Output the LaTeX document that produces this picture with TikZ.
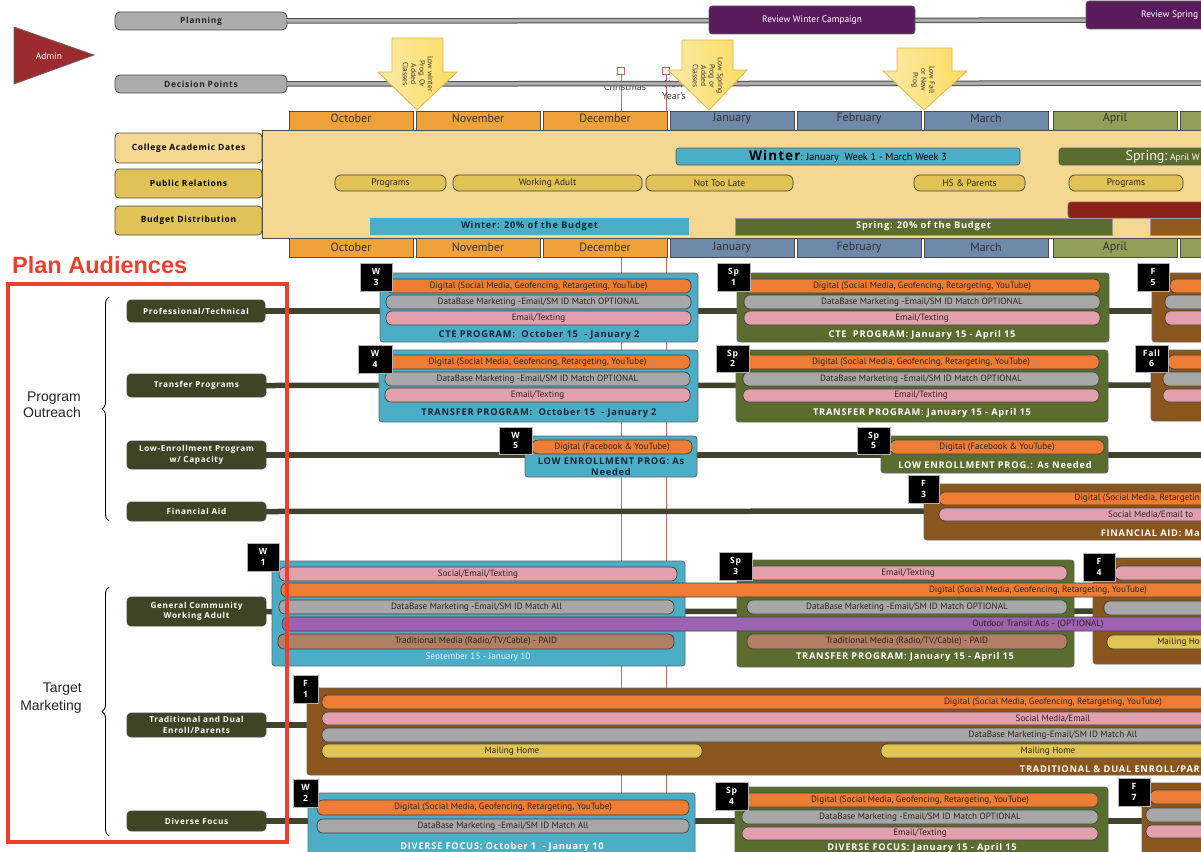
\documentclass[tikz,border=0pt]{standalone}
\usepackage{fontspec}
\setmainfont{PT Sans}
\newfontfamily\heavyfont{Open Sans}[LetterSpace=8]
\newfontfamily\arialfont{Liberation Sans}
\usetikzlibrary{decorations.pathreplacing}

\definecolor{cardCyan}{RGB}{76,173,198}
\definecolor{cardOlive}{RGB}{91,108,47}
\definecolor{cardBrown}{RGB}{139,86,30}
\definecolor{pOrange}{RGB}{237,125,52}
\definecolor{pGray}{RGB}{167,167,167}
\definecolor{pPink}{RGB}{226,160,172}
\definecolor{pPurple}{RGB}{158,99,176}
\definecolor{pTrad}{RGB}{178,126,100}
\definecolor{pYellow}{RGB}{224,196,84}
\definecolor{audGreen}{RGB}{62,69,36}
\definecolor{mOrange}{RGB}{239,162,58}
\definecolor{mBlue}{RGB}{111,137,168}
\definecolor{mGreen}{RGB}{143,160,89}
\definecolor{panelTan}{RGB}{244,216,146}
\definecolor{prGold}{RGB}{224,194,86}
\definecolor{adminRed}{RGB}{155,43,46}
\definecolor{reviewPurple}{RGB}{90,27,93}
\definecolor{frameRed}{RGB}{232,66,45}
\definecolor{budgetRed}{RGB}{139,32,22}
\definecolor{budgetBrown}{RGB}{142,90,30}
\definecolor{holidayRed}{RGB}{205,100,100}
\definecolor{titleNavy}{RGB}{20,38,56}
\definecolor{arrowEdge}{RGB}{229,181,70}
\definecolor{arrowLight}{RGB}{251,233,168}
\definecolor{arrowDark}{RGB}{252,220,96}
\definecolor{inkText}{RGB}{45,35,30}

% box from (x1,y1) to (x2,y2), image-style coordinates
\newcommand{\rbox}[7][]{%
  \node[#1,minimum width={#5-(#3)},minimum height={#6-(#4)},inner sep=0pt,outer sep=0pt]
    (#2) at ({(#3+#5)/2},{(#4+#6)/2}) {#7};}

\begin{document}
\begin{tikzpicture}[x=1pt,y=-1pt,
  pill/.style={draw=black!75,line width=0.7pt,rounded corners=6pt,font=\fontsize{9.1}{9.5}\selectfont,text=inkText},
  card/.style={draw=black!60,line width=0.8pt,rounded corners=3pt},
  badge/.style={fill=black,draw=black!30,line width=0.6pt,text=white,align=center,font=\heavyfont\bfseries\fontsize{8.6}{10.5}\selectfont},
  cardtitle/.style={font=\heavyfont\bfseries\fontsize{9.3}{10}\selectfont},
  month/.style={draw=black!70,line width=0.8pt,font=\fontsize{12}{12}\selectfont,text=black!80},
  monthtext/.style={font=\fontsize{12}{12}\selectfont,text=black!80},
  aud/.style={fill=audGreen,draw=black!70,line width=0.7pt,rounded corners=4pt,text=white,align=center,font=\heavyfont\bfseries\fontsize{8.2}{10.5}\selectfont},
  sidelabel/.style={draw=black!70,line width=0.8pt,rounded corners=4pt,font=\heavyfont\bfseries\fontsize{8.5}{9}\selectfont,text=black},
  prpill/.style={pill,fill=prGold,font=\fontsize{9.5}{10}\selectfont},
  trackbar/.style={fill=gray!65,draw=black!70,line width=0.8pt,rounded corners=5pt,font=\heavyfont\bfseries\fontsize{8.5}{9}\selectfont,text=black!85},
  decarrow/.style={left color=arrowLight,right color=arrowDark,draw=arrowEdge,line width=0.8pt},
  arrowtext/.style={rotate=-90,align=center,font=\fontsize{7.6}{8.3}\selectfont,text=black!80},
  holiday/.style={draw=holidayRed,fill=white,minimum size=7pt,inner sep=0pt,line width=0.7pt},
  outtext/.style={font=\fontsize{9.1}{9.5}\selectfont,text=inkText},
  budget/.style={font=\heavyfont\bfseries\fontsize{9.3}{10}\selectfont}
]
\useasboundingbox (0,0) rectangle (1201,851);
\fill[white] (0,0) rectangle (1201,851);
\clip (0,0) rectangle (1201,851);

% ---------- holiday markers and their guide lines
\node[holiday] (xmas) at (621,71) {};
\node[holiday] (newyear) at (666,71) {};
\coordinate (xmasEnd) at (621,851);
\coordinate (newyearEnd) at (666,851);
\draw[holidayRed,line width=0.8pt] (xmas.south) -- (xmasEnd);
\draw[holidayRed,line width=0.8pt] (newyear.south) -- (newyearEnd);
\node[font=\fontsize{10}{10}\selectfont,text=black!75] (xmasLbl) at (625,87) {Christmas};
\node[align=center,font=\fontsize{10}{11.5}\selectfont,text=black!75] (nyLbl) at (674,90) {New\\Year's};

% ---------- admin tracks
\filldraw[fill=adminRed,draw=black!60,line width=0.7pt] (14,27) -- (94,55) -- (14,84) -- cycle;
\node[text=white,font=\fontsize{9.5}{10}\selectfont] (admin) at (49,56) {Admin};

\coordinate (planEnd) at (1210,20);
\coordinate (decEnd) at (1210,83);
\rbox[trackbar]{plan}{115}{12}{287}{30}{Planning}
\rbox[trackbar]{dec}{115}{75}{287}{93}{Decision Points}
\draw[black!70,line width=5.5pt] (plan.east) -- (planEnd);
\draw[gray!65,line width=3.5pt] (plan.east) -- (planEnd);
\draw[black!70,line width=5.5pt] (dec.east) -- (decEnd);
\draw[gray!65,line width=3.5pt] (dec.east) -- (decEnd);

\rbox[fill=reviewPurple,draw=black!60,line width=0.7pt,rounded corners=3pt,text=white,font=\fontsize{9.4}{10}\selectfont]{revW}{709}{6}{915}{34}{Review Winter Campaign}
\rbox[fill=reviewPurple,draw=black!60,line width=0.7pt,rounded corners=3pt]{revS}{1086}{1}{1240}{29}{}
\node[anchor=west,inner sep=0pt,text=white,font=\fontsize{9.4}{10}\selectfont] (revSt) at (1141,15) {Review Spring};

% decision arrows
\shadedraw[decarrow] (392,38) -- (443,38) -- (443,72) -- (457,72) -- (417,110) -- (378,72) -- (392,72) -- cycle;
\node[arrowtext] (dp1) at (418,74) {Low winter\\Prog. Or\\Added\\Classes};
\shadedraw[decarrow] (682,40) -- (733,40) -- (733,70) -- (747,70) -- (709,110) -- (668,70) -- (682,70) -- cycle;
\node[arrowtext] (dp2) at (708,76) {Low Spring\\Prog or\\Added\\Classes};
\shadedraw[decarrow] (897,48) -- (952,48) -- (952,71) -- (967,71) -- (924,110) -- (883,71) -- (897,71) -- cycle;
\node[arrowtext] (dp3) at (923,80) {Low Fall\\or New\\Prog};

% ---------- month bands and college calendar panel
\foreach \m/\x/\c [count=\i] in {October/289/mOrange,November/416/mOrange,December/543/mOrange,January/670/mBlue,February/797/mBlue,March/924/mBlue,April/1053/mGreen,{}/1180/mGreen}{
  \rbox[month,fill=\c]{mt\i}{\x}{111}{\x+124}{130}{}
  \node[monthtext] (mtl\i) at ({\x+62},118.5) {\m};
  \rbox[month,fill=\c]{mb\i}{\x}{238}{\x+124}{257}{\m}
}
\rbox[fill=panelTan,draw=black!70,line width=0.8pt]{panel}{262}{130}{1240}{238}{}

\rbox[sidelabel,fill=panelTan]{cad}{115}{133}{262}{163}{College Academic Dates}
\rbox[sidelabel,fill=prGold]{pr}{115}{169}{262}{198}{Public Relations}
\rbox[sidelabel,fill=prGold]{bd}{115}{206}{262}{235}{Budget Distribution}

\rbox[fill=cardCyan,draw=black!65,line width=0.7pt,rounded corners=3pt,text=black]{winter}{676}{148}{1020}{165}{{\heavyfont\bfseries\fontsize{13.5}{13}\selectfont Winter}{\fontsize{10.3}{9}\selectfont: January\ \ Week 1 - March Week 3}}
\rbox[fill=cardOlive,draw=black!65,line width=0.7pt,rounded corners=3pt]{spring}{1059}{148}{1240}{165}{}
\node[anchor=east,text=white!92!yellow,inner sep=0pt] (springT) at (1200,157) {{\fontsize{14}{13}\selectfont Spring:}\ {\fontsize{9.5}{9}\selectfont April W}};

\rbox[prpill]{pr1}{335}{175}{446}{191}{Programs}
\rbox[prpill]{pr2}{453}{175}{642}{191}{Working Adult}
\rbox[prpill]{pr3}{646}{175}{793}{191}{Not Too Late}
\rbox[prpill]{pr4}{914}{175}{1025}{191}{HS \& Parents}
\rbox[prpill]{pr5}{1069}{175}{1183}{191}{Programs}

\rbox[fill=budgetRed,draw=black!60,line width=0.7pt,rounded corners=3pt]{bRed}{1068}{202}{1240}{218}{}
\rbox[budget,fill=cardCyan,text=titleNavy]{bWinter}{370}{218}{689}{235}{Winter: 20\% of the Budget}
\rbox[budget,fill=cardOlive,draw=black!40,line width=0.5pt,text=white]{bSpring}{735}{218}{1112}{235}{Spring: 20\% of the Budget}
\rbox[fill=budgetBrown,draw=black!40,line width=0.5pt]{bBrown}{1150}{218}{1240}{235}{}

% ---------- audiences
\node[anchor=west,inner sep=0pt,text=frameRed,font=\arialfont\bfseries\fontsize{23.5}{25}\selectfont] (planAud) at (12,265) {Plan Audiences};
\node[align=right,font=\arialfont\fontsize{14}{16}\selectfont,text=black!85] (po) at (52,405) {Program\\Outreach};
\node[align=right,font=\arialfont\fontsize{14}{17.5}\selectfont,text=black!85] (tm) at (51,698) {Target\\Marketing};
\draw[decorate,decoration={brace,amplitude=7pt},line width=0.9pt] (109,521) -- (109,297);
\draw[decorate,decoration={brace,amplitude=7pt},line width=0.9pt] (109,836) -- (109,587);

\rbox[aud]{a1}{127}{300}{265}{322}{Professional/Technical}
\rbox[aud]{a2}{127}{374}{266}{397}{Transfer Programs}
\rbox[aud]{a3}{127}{441}{266}{469}{Low-Enrollment Program\\w/ Capacity}
\rbox[aud]{a4}{127}{502}{266}{521}{Financial Aid}
\rbox[aud]{a5}{127}{597}{266}{626}{General Community\\Working Adult}
\rbox[aud]{a6}{127}{713}{266}{737}{Traditional and Dual\\Enroll/Parents}
\rbox[aud]{a7}{127}{811}{266}{831}{Diverse Focus}

\foreach \i/\y in {1/311,2/385,3/455,4/511,5/611,6/725,7/821}{
  \coordinate (ae\i) at (1210,\y);
  \draw[black!75,line width=5.5pt] (a\i.east) -- (ae\i);
  \draw[audGreen,line width=3.6pt] (a\i.east) -- (ae\i);
}

% ---------- Professional/Technical
\rbox[card,fill=cardCyan]{w3}{380}{273}{698}{342}{}
\rbox[pill,fill=pOrange]{w3d}{386}{279}{691}{293}{Digital (Social Media, Geofencing, Retargeting, YouTube)}
\rbox[pill,fill=pGray]{w3b}{386}{295}{691}{309}{DataBase Marketing -Email/SM ID Match OPTIONAL}
\rbox[pill,fill=pPink]{w3e}{386}{311}{691}{325}{Email/Texting}
\node[cardtitle,text=titleNavy] (w3t) at (539,335) {CTE PROGRAM:\ \ October 15\ \ - January 2};
\rbox[badge]{w3n}{360}{263}{392}{291}{W\\3}

\rbox[card,fill=cardOlive]{s1}{737}{273}{1109}{342}{}
\rbox[pill,fill=pOrange]{s1d}{744}{279}{1100}{293}{Digital (Social Media, Geofencing, Retargeting, YouTube)}
\rbox[pill,fill=pGray]{s1b}{744}{295}{1100}{309}{DataBase Marketing -Email/SM ID Match OPTIONAL}
\rbox[pill,fill=pPink]{s1e}{744}{311}{1100}{325}{Email/Texting}
\node[cardtitle,text=white] (s1t) at (922,335) {CTE\ \ PROGRAM: January 15 - April 15};
\rbox[badge]{s1n}{717}{263}{750}{291}{Sp\\1}

\rbox[card,fill=cardBrown]{f5}{1152}{273}{1240}{342}{}
\rbox[pill,fill=pOrange]{f5d}{1170}{279}{1240}{293}{}
\rbox[pill,fill=pGray]{f5b}{1165}{295}{1240}{309}{}
\rbox[pill,fill=pPink]{f5e}{1165}{311}{1240}{325}{}
\rbox[badge]{f5n}{1137}{263}{1169}{291}{F\\5}

% ---------- Transfer Programs
\rbox[card,fill=cardCyan]{w4}{379}{350}{698}{422}{}
\rbox[pill,fill=pOrange]{w4d}{385}{355}{690}{369}{Digital (Social Media, Geofencing, Retargeting, YouTube)}
\rbox[pill,fill=pGray]{w4b}{385}{372}{690}{386}{DataBase Marketing -Email/SM ID Match OPTIONAL}
\rbox[pill,fill=pPink]{w4e}{385}{388}{690}{402}{Email/Texting}
\node[cardtitle,text=titleNavy] (w4t) at (539,413) {TRANSFER PROGRAM:\ \ October 15\ \ - January 2};
\rbox[badge]{w4n}{358}{345}{392}{373}{W\\4}

\rbox[card,fill=cardOlive]{s2}{736}{350}{1108}{422}{}
\rbox[pill,fill=pOrange]{s2d}{743}{355}{1099}{369}{Digital (Social Media, Geofencing, Retargeting, YouTube)}
\rbox[pill,fill=pGray]{s2b}{743}{372}{1099}{386}{DataBase Marketing -Email/SM ID Match OPTIONAL}
\rbox[pill,fill=pPink]{s2e}{743}{389}{1099}{402}{Email/Texting}
\node[cardtitle,text=white] (s2t) at (922,413) {TRANSFER PROGRAM: January 15 - April 15};
\rbox[badge]{s2n}{716}{345}{749}{372}{Sp\\2}

\rbox[card,fill=cardBrown]{f6}{1151}{350}{1240}{421}{}
\rbox[pill,fill=pOrange]{f6d}{1168}{355}{1240}{369}{}
\rbox[pill,fill=pGray]{f6b}{1163}{372}{1240}{386}{}
\rbox[pill,fill=pPink]{f6e}{1163}{389}{1240}{402}{}
\rbox[badge]{f6n}{1135}{345}{1168}{372}{Fall\\6}

% ---------- Low-Enrollment Program
\rbox[card,fill=cardCyan]{w5}{525}{436}{697}{477}{}
\rbox[pill,fill=pOrange]{w5d}{532}{440}{692}{454}{Digital (Facebook \& YouTube)}
\node[cardtitle,text=titleNavy,align=center,font=\heavyfont\bfseries\fontsize{9.3}{11}\selectfont] (w5t) at (611,467) {LOW ENROLLMENT PROG: As\\Needed};
\rbox[badge]{w5n}{499}{427}{532}{454}{W\\5}

\rbox[card,fill=cardOlive]{s5}{881}{436}{1108}{473}{}
\rbox[pill,fill=pOrange]{s5d}{890}{440}{1104}{454}{Digital (Facebook \& YouTube)}
\node[cardtitle,text=white] (s5t) at (995,465) {LOW ENROLLMENT PROG.: As Needed};
\rbox[badge]{s5n}{857}{427}{890}{454}{Sp\\5}

% ---------- Financial Aid
\rbox[card,fill=cardBrown]{f3}{924}{484}{1240}{540}{}
\rbox[pill,fill=pOrange]{f3d}{939}{492}{1240}{505}{}
\rbox[pill,fill=pPink]{f3e}{939}{508}{1240}{521}{}
\node[outtext,anchor=east,inner sep=0pt] (f3dt) at (1200,498.5) {Digital (Social Media, Retargetin};
\node[outtext,anchor=west,inner sep=0pt] (f3et) at (1108,514.5) {Social Media/Email to};
\node[cardtitle,text=white,anchor=east,inner sep=0pt] (f3t) at (1200,533) {FINANCIAL AID: Ma};
\rbox[badge]{f3n}{908}{475}{939}{503}{F\\3}

% ---------- General Community / Working Adult
\rbox[card,fill=cardCyan]{w1}{272}{561}{685}{666}{}
\rbox[pill,fill=pPink]{w1e}{279}{567}{677}{581}{Social/Email/Texting}
\rbox[pill,fill=pGray]{w1b}{279}{600}{674}{614}{DataBase Marketing -Email/SM ID Match All}
\rbox[pill,fill=pTrad]{w1m}{278}{634}{674}{649}{Traditional Media (Radio/TV/Cable) - PAID}
\node[font=\fontsize{9.2}{9.5}\selectfont,text=white!88!cyan] (w1t) at (478,657) {September 15 - January 10};
\rbox[badge]{w1n}{247}{543}{279}{571}{W\\1}

\rbox[card,fill=cardOlive]{s3}{737}{560}{1074}{667}{}
\rbox[pill,fill=pPink]{s3e}{749}{566}{1067}{580}{Email/Texting}
\rbox[pill,fill=pGray]{s3b}{747}{600}{1067}{614}{DataBase Marketing -Email/SM ID Match OPTIONAL}
\rbox[pill,fill=pTrad]{s3m}{747}{634}{1067}{649}{Traditional Media (Radio/TV/Cable) - PAID}
\node[cardtitle,text=white] (s3t) at (905,657) {TRANSFER PROGRAM: January 15 - April 15};
\rbox[badge]{s3n}{719}{552}{752}{580}{Sp\\3}

\rbox[card,fill=cardBrown]{f4}{1093}{558}{1240}{664}{}
\rbox[pill,fill=pPink]{f4e}{1115}{566}{1240}{580}{}
\rbox[pill,fill=pGray]{f4b}{1104}{601}{1240}{615}{}
\rbox[pill,fill=pYellow]{f4y}{1107}{635}{1240}{649}{}
\node[outtext,anchor=east,inner sep=0pt] (f4yt) at (1200,642) {Mailing Ho};
\rbox[badge]{f4n}{1083}{553}{1115}{581}{F\\4}

\rbox[pill,fill=pOrange]{gcd}{281}{583}{1240}{597}{}
\node[outtext] (gcdt) at (1038,590) {Digital (Social Media, Geofencing, Retargeting, YouTube)};
\rbox[pill,fill=pPurple]{gco}{282}{617}{1240}{631}{}
\node[outtext] (gcot) at (1038,624) {Outdoor Transit Ads - (OPTIONAL)};

% ---------- Traditional and Dual Enroll/Parents
\rbox[card,fill=cardBrown]{f1}{307}{688}{1240}{775}{}
\rbox[pill,fill=pOrange]{f1d}{322}{695}{1240}{709}{}
\rbox[pill,fill=pPink]{f1e}{322}{712}{1240}{725}{}
\rbox[pill,fill=pGray]{f1b}{322}{728}{1240}{742}{}
\rbox[pill,fill=pYellow]{f1y}{322}{744}{702}{758}{Mailing Home}
\rbox[pill,fill=pYellow]{f1z}{881}{744}{1240}{758}{}
\node[outtext] (f1dt) at (1053,702) {Digital (Social Media, Geofencing, Retargeting, YouTube)};
\node[outtext] (f1et) at (1053,718.5) {Social Media/Email};
\node[outtext] (f1bt) at (1053,735) {DataBase Marketing-Email/SM ID Match All};
\node[outtext] (f1zt) at (1048,751) {Mailing Home};
\node[cardtitle,text=white,anchor=east,inner sep=0pt] (f1t) at (1200,769) {TRADITIONAL \& DUAL ENROLL/PAR};
\rbox[badge]{f1n}{293}{675}{318}{703}{F\\1}

% ---------- Diverse Focus
\rbox[card,fill=cardCyan]{w2}{308}{793}{695}{880}{}
\rbox[pill,fill=pOrange]{w2d}{317}{800}{689}{815}{Digital (Social Media, Geofencing, Retargeting, YouTube)}
\rbox[pill,fill=pGray]{w2b}{317}{819}{689}{833}{DataBase Marketing -Email/SM ID Match All}
\node[cardtitle,text=white] (w2t) at (502,847) {DIVERSE FOCUS: October 1\ \ - January 10};
\rbox[badge]{w2n}{293}{779}{318}{807}{W\\2}

\rbox[card,fill=cardOlive]{s4}{735}{787}{1108}{880}{}
\rbox[pill,fill=pOrange]{s4d}{742}{793}{1098}{807}{Digital (Social Media, Geofencing, Retargeting, YouTube)}
\rbox[pill,fill=pGray]{s4b}{742}{810}{1098}{824}{DataBase Marketing -Email/SM ID Match OPTIONAL}
\rbox[pill,fill=pPink]{s4e}{742}{827}{1098}{840}{Email/Texting}
\node[cardtitle,text=white] (s4t) at (922,848) {DIVERSE FOCUS: January 15 - April 15};
\rbox[badge]{s4n}{715}{782}{748}{810}{Sp\\4}

\rbox[card,fill=cardBrown]{f7}{1142}{783}{1240}{880}{}
\rbox[pill,fill=pOrange]{f7d}{1150}{790}{1240}{804}{}
\rbox[pill,fill=pGray]{f7b}{1146}{808}{1240}{822}{}
\rbox[pill,fill=pPink]{f7e}{1146}{825}{1240}{838}{}
\rbox[badge]{f7n}{1118}{778}{1150}{806}{F\\7}

% ---------- audience frame
\draw[frameRed,line width=4pt] (8,284) rectangle (287,842);
\end{tikzpicture}
\end{document}
